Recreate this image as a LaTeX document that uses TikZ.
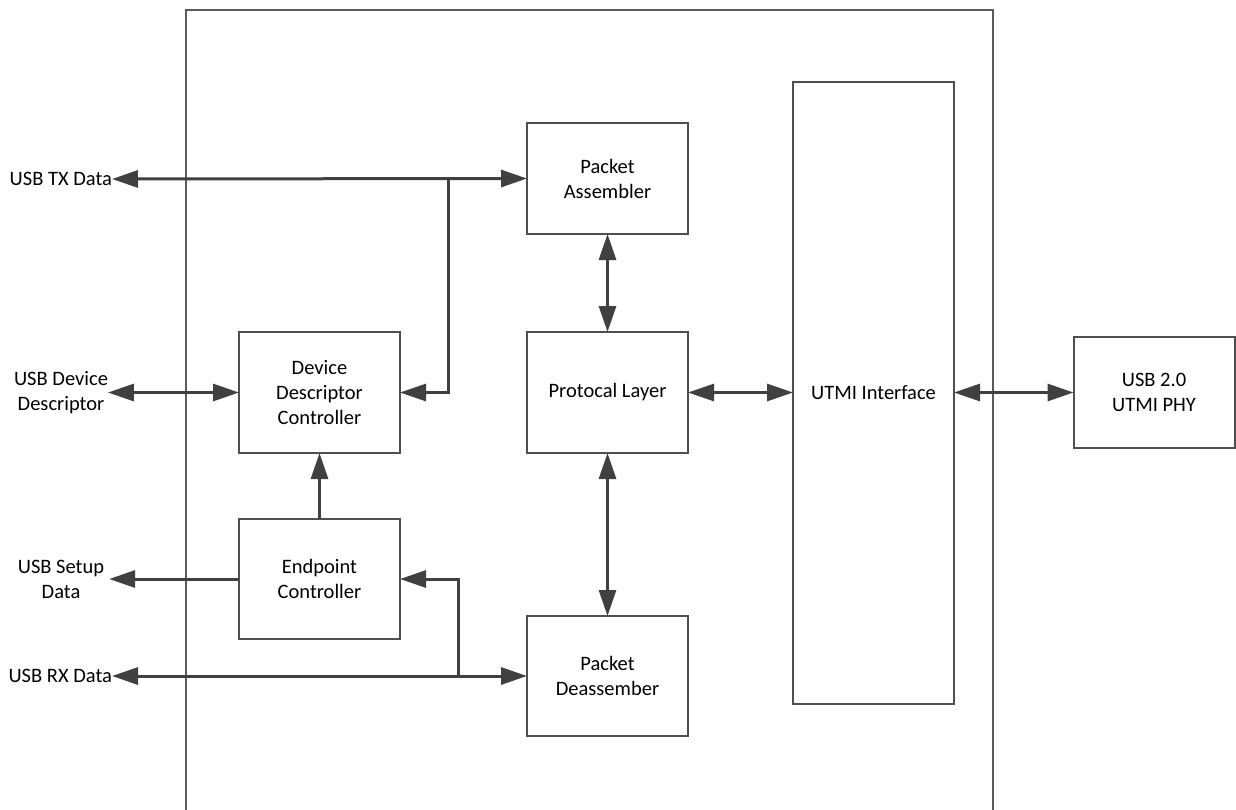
\documentclass[tikz,border=0pt]{standalone}
\usepackage{fontspec}
\setmainfont{Carlito}
\usetikzlibrary{arrows.meta}
\definecolor{linegray}{HTML}{404040}
\definecolor{boxgray}{HTML}{4F4F4F}
\definecolor{framegray}{HTML}{5A5A5A}
\begin{document}
\begin{tikzpicture}[x=1pt,y=-1pt,
  font=\fontsize{20.5}{25}\selectfont,
  blk/.style={draw=boxgray, line width=2pt, align=center, inner sep=0pt, outer sep=0pt, minimum width=161pt},
  lbl/.style={align=center, inner sep=0pt, outer sep=0pt},
  conn/.style={draw=linegray, line width=3pt, -{Triangle[length=26pt,width=17pt]}},
  biconn/.style={draw=linegray, line width=3pt, {Triangle[length=26pt,width=17pt]}-{Triangle[length=26pt,width=17pt]}},
]
\useasboundingbox (0,0) rectangle (1236,809);
\begin{scope}
  \clip (0,0) rectangle (1236,809);
  \draw[framegray, line width=1.5pt] (186,10) rectangle (993,840);
\end{scope}

% blocks
\node[blk, minimum height=111pt] (pa)   at (607.5,178.5) {Packet\\Assembler};
\node[blk, minimum height=121pt] (ddc)  at (319.5,392.5) {Device\\Descriptor\\Controller};
\node[blk, minimum height=121pt] (pl)   at (607.5,392.5) {Protocal Layer};
\node[blk, minimum height=120pt] (ec)   at (319.5,579)   {Endpoint\\Controller};
\node[blk, minimum height=120pt] (pd)   at (607.5,676)   {Packet\\Deassember};
\node[blk, minimum height=622pt] (utmi) at (873.5,392.5) {UTMI Interface};
\node[blk, minimum height=111pt] (phy)  at (1154,392.5)  {USB 2.0\\UTMI PHY};

% external labels
\node[lbl, anchor=east] (txl) at (112,179) {USB TX Data};
\node[lbl] (ddl) at (61,392.5) {USB Device\\Descriptor};
\node[lbl] (setl) at (61,579) {USB Setup\\Data};
\node[lbl, anchor=east] (rxl) at (112,676) {USB RX Data};

% junctions
\coordinate (txj) at (448,179);
\coordinate (rxj) at (458,676);

% connectors
\draw[biconn] (txl.east) -- (pa.west);
\draw[conn] (txj) |- (ddc.east);
\draw[biconn] (ddl.east) -- (ddc.west);
\draw[conn] (ec.north) -- (ddc.south);
\draw[conn] (ec.west) -- ([xshift=5pt]setl.east);
\draw[biconn] (rxl.east) -- (pd.west);
\draw[conn] (rxj) |- (ec.east);
\draw[biconn] (pa.south) -- (pl.north);
\draw[biconn] (pl.south) -- (pd.north);
\draw[biconn] (pl.east) -- (utmi.west);
\draw[biconn] (utmi.east) -- (phy.west);
\end{tikzpicture}
\end{document}
